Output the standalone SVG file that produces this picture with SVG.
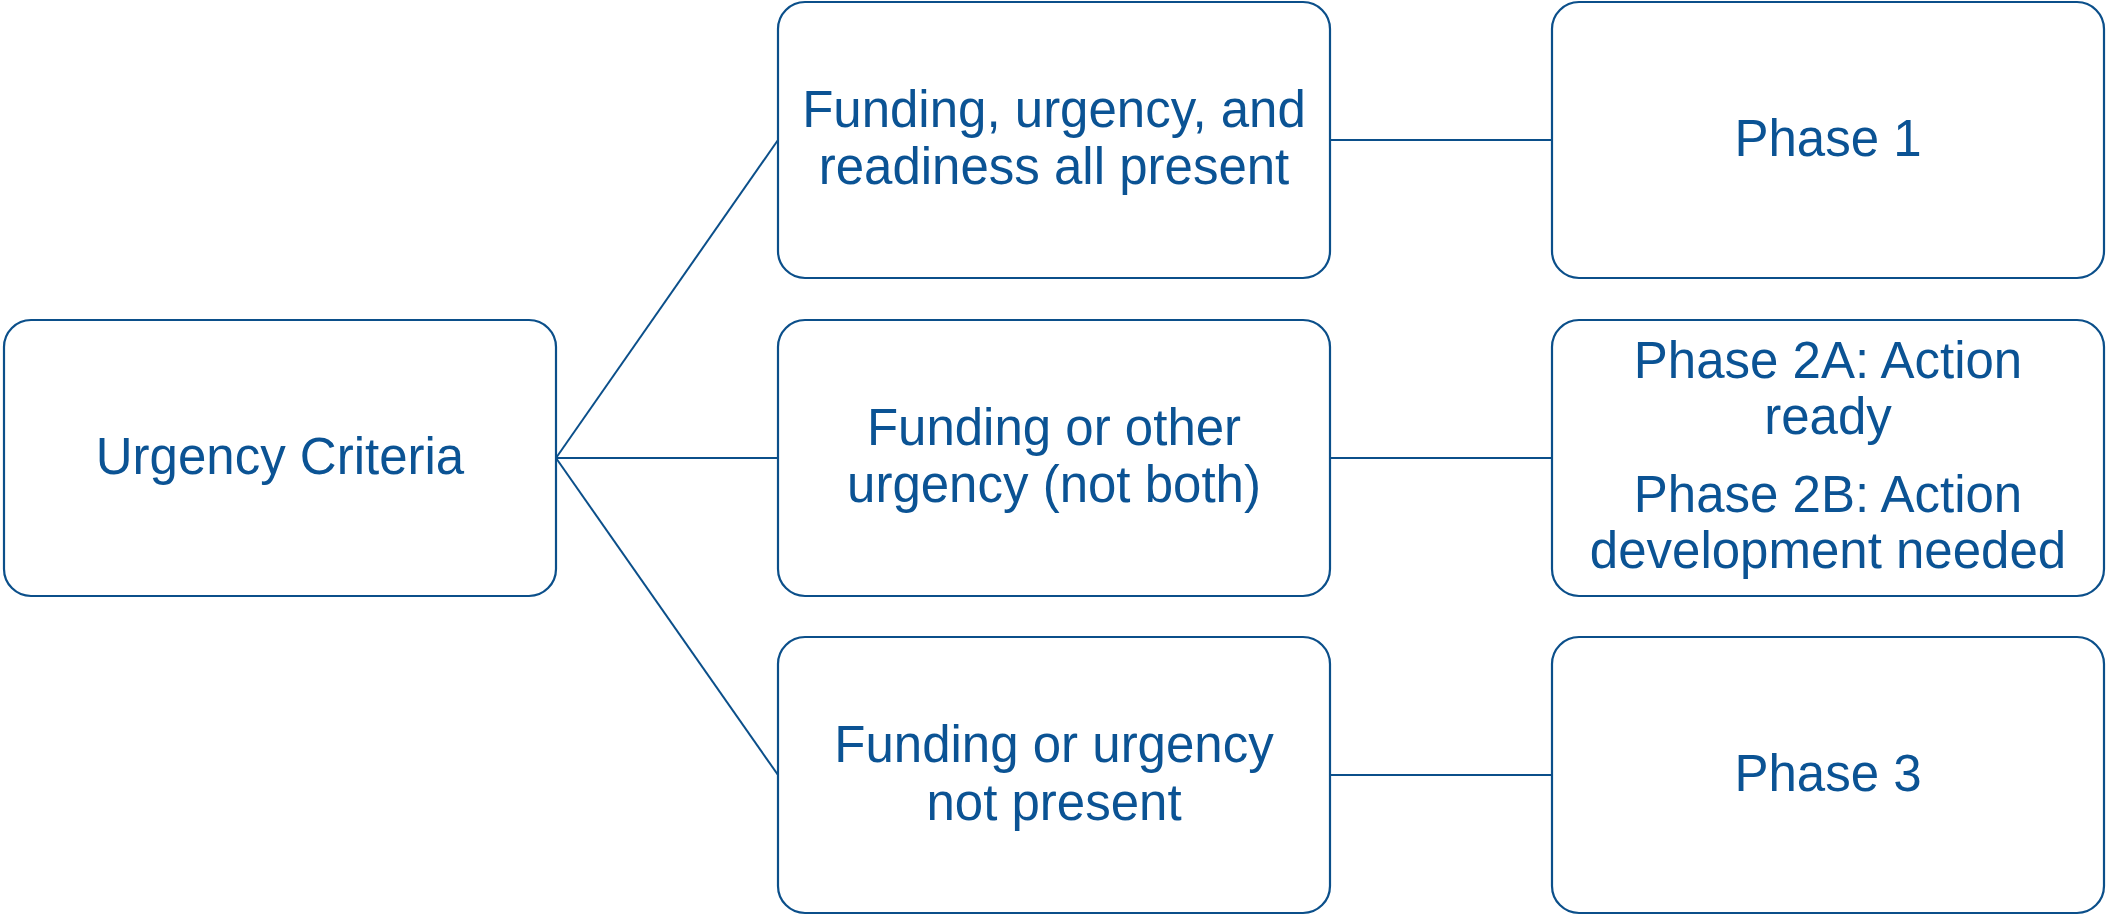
<svg xmlns="http://www.w3.org/2000/svg" width="2107" height="915" viewBox="0 0 2107 915">
<style>
.box{fill:#ffffff;stroke:#0B4F8A;stroke-width:2.2}
.ln{stroke:#0B4F8A;stroke-width:2;fill:none}
.t{font-family:"Liberation Sans",Arial,sans-serif;font-size:51px;fill:#0B5394;text-anchor:middle}
</style>
<rect width="2107" height="915" fill="#ffffff"/>
<g id="connectors">
<line class="ln" x1="556" y1="458" x2="778" y2="140"/>
<line class="ln" x1="556" y1="458" x2="778" y2="458"/>
<line class="ln" x1="556" y1="458" x2="778" y2="775"/>
<line class="ln" x1="1330" y1="140" x2="1552" y2="140"/>
<line class="ln" x1="1330" y1="458" x2="1552" y2="458"/>
<line class="ln" x1="1330" y1="775" x2="1552" y2="775"/>
</g>
<g id="urgency-criteria">
<rect class="box" x="4" y="320" width="552" height="276" rx="27"/>
<text class="t" x="280" y="474">Urgency Criteria</text>
</g>
<g id="all-present">
<rect class="box" x="778" y="2" width="552" height="276" rx="27"/>
<text class="t" x="1054" y="127">Funding, urgency, and</text>
<text class="t" x="1054" y="184">readiness all present</text>
</g>
<g id="not-both">
<rect class="box" x="778" y="320" width="552" height="276" rx="27"/>
<text class="t" x="1054" y="445">Funding or other</text>
<text class="t" x="1054" y="502">urgency (not both)</text>
</g>
<g id="not-present">
<rect class="box" x="778" y="637" width="552" height="276" rx="27"/>
<text class="t" x="1054" y="762">Funding or urgency</text>
<text class="t" x="1054" y="820">not present</text>
</g>
<g id="phase-1">
<rect class="box" x="1552" y="2" width="552" height="276" rx="27"/>
<text class="t" x="1828" y="156">Phase 1</text>
</g>
<g id="phase-2">
<rect class="box" x="1552" y="320" width="552" height="276" rx="27"/>
<text class="t" x="1828" y="378">Phase 2A: Action</text>
<text class="t" x="1828" y="434">ready</text>
<text class="t" x="1828" y="512">Phase 2B: Action</text>
<text class="t" x="1828" y="568">development needed</text>
</g>
<g id="phase-3">
<rect class="box" x="1552" y="637" width="552" height="276" rx="27"/>
<text class="t" x="1828" y="791">Phase 3</text>
</g>
</svg>
